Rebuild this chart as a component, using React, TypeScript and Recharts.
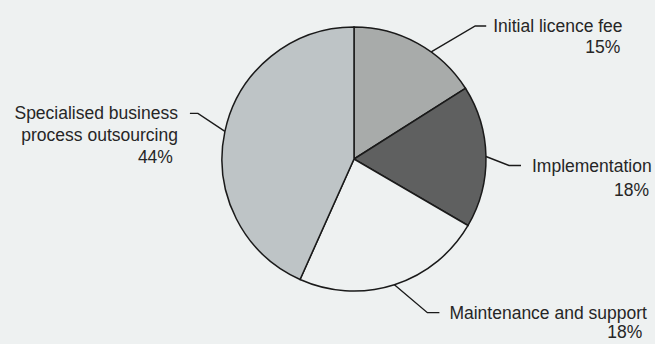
import React from 'react';
import { PieChart, Pie, Cell } from 'recharts';

// slice shares as drawn (the printed labels don't add up to 100)
const categories = [
  'Initial licence fee',
  'Implementation',
  'Maintenance and support',
  'Specialised business process outsourcing',
];
const sliceShares = [16, 17.4, 23.3, 43.3];
const labelPercents = ['15%', '18%', '18%', '44%'];
const labelLines = [
  ['Initial licence fee'],
  ['Implementation'],
  ['Maintenance and support'],
  ['Specialised business', 'process outsourcing'],
];

const fills = ['#a8abaa', '#5f6060', '#eef1f1', '#bec4c6'];

// leader line layout: angle nudge, elbow offset from edge point, tail, text gap, pct offset
const leaderLayout = [
  { nudge: -7, dx: 44, dy: -26, tail: 11, gap: 7, pctX: 127, pctDy: 21 },
  { nudge: 0, dx: 23, dy: 9, tail: 12, gap: 11, pctX: 117, pctDy: 24 },
  { nudge: 0, dx: 33, dy: 28, tail: 12, gap: 10, pctX: 193, pctDy: 19 },
  { nudge: 0, dx: -27, dy: -18, tail: -8, gap: 12, pctX: -5, pctDy: 22 },
];

const chartData = categories.map((name, i) => ({ name, value: sliceShares[i] }));

const RAD = Math.PI / 180;

function LeaderLabel(props: any) {
  const { cx, cy, midAngle, outerRadius, index } = props;
  const lay = leaderLayout[index];
  const a = (midAngle + lay.nudge) * RAD;
  const sx = cx + outerRadius * Math.cos(a);
  const sy = cy - outerRadius * Math.sin(a);
  const ex = sx + lay.dx;
  const ey = sy + lay.dy;
  const tx = ex + lay.tail;
  const right = lay.tail > 0;
  const lines = labelLines[index];
  const textX = right ? tx + lay.gap : tx - lay.gap;
  const firstY = ey + 6;
  const textProps = {
    fontFamily: 'Liberation Sans, Arial, sans-serif',
    fontSize: 17.5,
    fill: '#262626',
  };
  return (
    <g>
      <polyline
        points={`${sx},${sy} ${ex},${ey} ${tx},${ey}`}
        fill="none"
        stroke="#1a1a1a"
        strokeWidth={1.4}
      />
      {lines.map((ln, k) => (
        <text
          key={k}
          x={textX}
          y={firstY + k * 22}
          {...textProps}
          textAnchor={right ? 'start' : 'end'}
        >
          {ln}
        </text>
      ))}
      <text
        x={textX + lay.pctX}
        y={firstY + (lines.length - 1) * 22 + lay.pctDy}
        {...textProps}
        textAnchor="end"
      >
        {labelPercents[index]}
      </text>
    </g>
  );
}

export default function App() {
  return (
    <div
      style={{
        position: 'absolute',
        left: 0,
        top: 0,
        width: 655,
        height: 344,
        background: '#eef1f1',
      }}
    >
      <PieChart width={655} height={344} margin={{ top: 0, right: 0, bottom: 0, left: 0 }}>
        <Pie
          data={chartData}
          dataKey="value"
          nameKey="name"
          cx={354}
          cy={159}
          outerRadius={132}
          startAngle={90}
          endAngle={-270}
          stroke="#1a1a1a"
          strokeWidth={1.5}
          label={LeaderLabel}
          labelLine={false}
          isAnimationActive={false}
        >
          {chartData.map((d, i) => (
            <Cell key={d.name} fill={fills[i]} />
          ))}
        </Pie>
      </PieChart>
    </div>
  );
}
